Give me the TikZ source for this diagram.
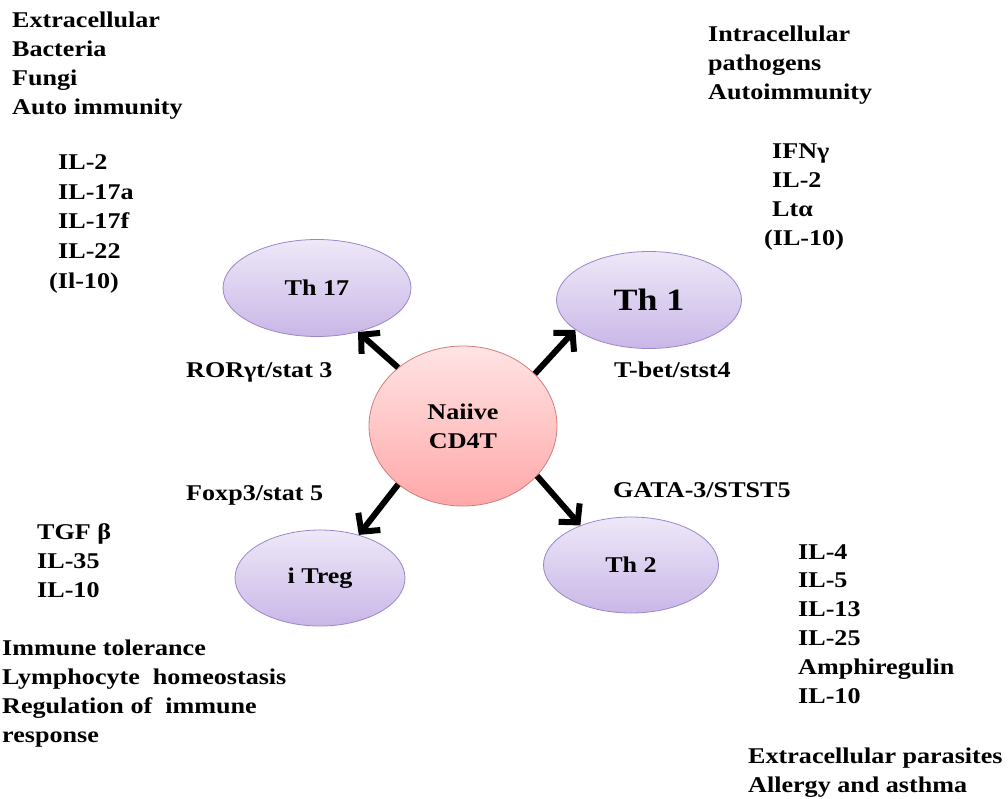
\documentclass[tikz,border=0pt]{standalone}
\usepackage{fontspec}
\setmainfont[FakeStretch=1.16]{Liberation Serif}
\usepackage{xcolor}
\usepackage{tikz}
\usetikzlibrary{shapes.geometric, arrows.meta}
\definecolor{cellLilac}{HTML}{EEE8F8}
\definecolor{cellLilacDark}{HTML}{C9B7E7}
\definecolor{cellLilacLine}{HTML}{9B86C9}
\definecolor{cellPink}{HTML}{FFE4E4}
\definecolor{cellPinkDark}{HTML}{FFA8A8}
\definecolor{cellPinkLine}{HTML}{D27B7B}

\begin{document}
\begin{tikzpicture}[x=1pt, y=-1pt,
        cell/.style={ellipse, draw=cellLilacLine, line width=0.8pt, top color=cellLilac, bottom color=cellLilacDark, inner sep=0pt, font=\fontsize{22.5}{28.8}\selectfont\bfseries},
        naivecell/.style={cell, draw=cellPinkLine, top color=cellPink, bottom color=cellPinkDark, align=center},
        txt/.style={anchor=base west, inner sep=0pt, align=left, font=\fontsize{22.5}{28.8}\selectfont\bfseries},
        arrow/.style={-{Straight Barb[length=13pt, width=28pt]}, line width=6pt, black}]

        \useasboundingbox (0,0) rectangle (1008,798);

        % Cells
        \node[naivecell, minimum width=188pt, minimum height=160pt] (naive) at (463,426) {Naiive\\CD4T};
        \node[cell, minimum width=188pt, minimum height=97pt] (th17) at (317,288) {Th 17};
        \node[cell, minimum width=185pt, minimum height=97pt, font=\fontsize{31}{36}\selectfont\bfseries] (th1) at (649,300) {Th 1};
        \node[cell, minimum width=170pt, minimum height=96pt] (itreg) at (320,578) {i Treg};
        \node[cell, minimum width=175pt, minimum height=96pt] (th2) at (631,565) {Th 2};

        % Transcription factors
        \node[txt] (rorgt) at (186,377) {RORγt/stat 3};
        \node[txt] (tbet) at (614,377) {T-bet/stst4};
        \node[txt] (foxp3) at (186,500) {Foxp3/stat 5};
        \node[txt] (gata3) at (613,497) {GATA-3/STST5};

        % Th 17 side (nodes sit on their last baseline)
        \node[txt] (th17role) at (12,114) {Extracellular\\Bacteria\\Fungi\\Auto immunity};
        \node[txt, font=\fontsize{22.5}{29.6}\selectfont\bfseries] (th17cyto) at (58,288) {IL-2\\IL-17a\\IL-17f\\IL-22\\\hspace*{-9pt}(Il-10)};

        % Th 1 side
        \node[txt] (th1role) at (708,99) {Intracellular\\pathogens\\Autoimmunity};
        \node[txt] (th1cyto) at (772,245) {IFNγ\\IL-2\\Ltα\\\hspace*{-8pt}(IL-10)};

        % i Treg side
        \node[txt] (tregcyto) at (37,597) {TGF β\\IL-35\\IL-10};
        \node[txt] (tregrole) at (2,742) {Immune tolerance\\Lymphocyte\ \ homeostasis\\Regulation of\ \ immune\\response};

        % Th 2 side
        \node[txt] (th2cyto) at (798,703) {IL-4\\IL-5\\IL-13\\IL-25\\Amphiregulin\\IL-10};
        \node[txt] (th2role) at (748,792) {Extracellular parasites\\Allergy and asthma};

        % Arrows
        \draw[arrow] (naive.138) -- (th17.-47);
        \draw[arrow] (naive.36) -- (th1.202);
        \draw[arrow] (naive.222) -- (itreg.48);
        \draw[arrow] (naive.-34) -- (th2.142);
    \end{tikzpicture}
\end{document}
